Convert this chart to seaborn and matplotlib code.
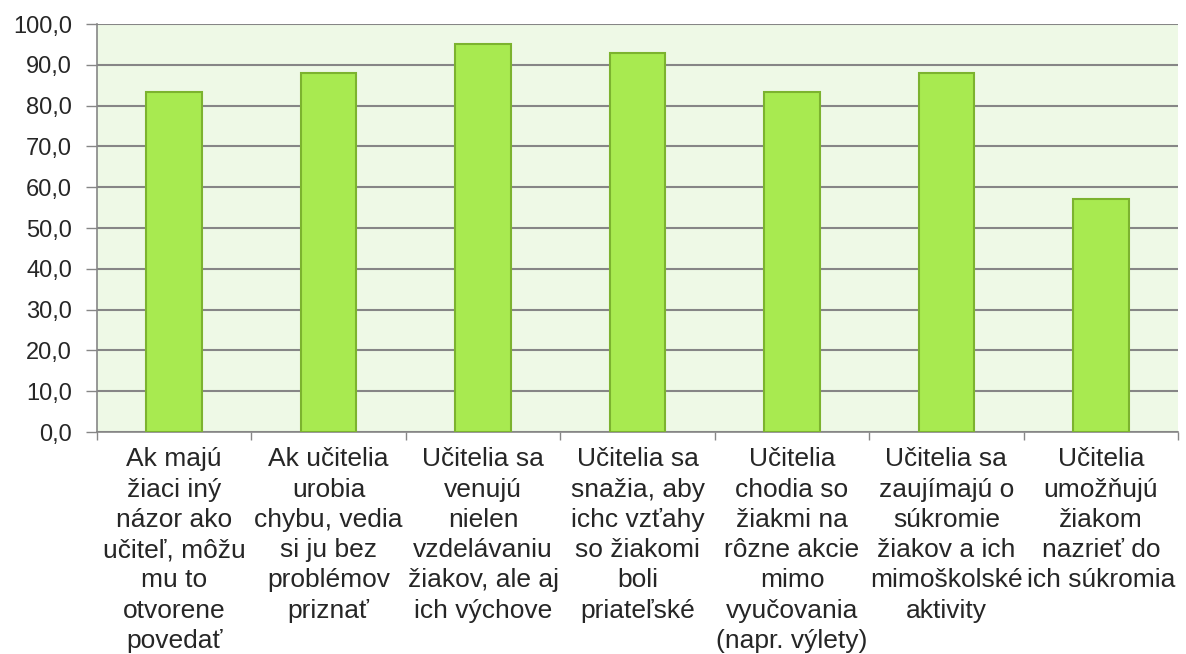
import numpy as np
import pandas as pd
import matplotlib
matplotlib.use("Agg")
import matplotlib.pyplot as plt
import seaborn as sns

categories = [
    "Ak majú\nžiaci iný\nnázor ako\nučiteľ, môžu\nmu to\notvorene\npovedať",
    "Ak učitelia\nurobia\nchybu, vedia\nsi ju bez\nproblémov\npriznať",
    "Učitelia sa\nvenujú\nnielen\nvzdelávaniu\nžiakov, ale aj\nich výchove",
    "Učitelia sa\nsnažia, aby\nichc vzťahy\nso žiakomi\nboli\npriateľské",
    "Učitelia\nchodia so\nžiakmi na\nrôzne akcie\nmimo\nvyučovania\n(napr. výlety)",
    "Učitelia sa\nzaujímajú o\nsúkromie\nžiakov a ich\nmimoškolské\naktivity",
    "Učitelia\numožňujú\nžiakom\nnazrieť do\nich súkromia",
]
values = [83.3, 88.1, 95.2, 92.9, 83.3, 88.1, 57.1]
yticks = [0, 10, 20, 30, 40, 50, 60, 70, 80, 90, 100]

df = pd.DataFrame({"kat": categories, "hodnota": values})

sns.set_style("white")
plt.rcParams["font.family"] = ["Liberation Sans", "DejaVu Sans"]

fig = plt.figure(figsize=(11.86, 6.54), dpi=100)
ax = fig.add_axes([0.0818, 0.3394, 0.9115, 0.6239])
ax.set_facecolor("#eef9e6")

sns.barplot(data=df, x="kat", y="hodnota", color="#a8ea50", width=0.36,
            edgecolor="#7cb32f", linewidth=1.5, saturation=1, ax=ax, zorder=3)

ax.set_ylim(0, 100)
ax.set_xlim(-0.5, len(categories) - 0.5)
ax.set_yticks(yticks)
ax.set_yticklabels([f"{v:.1f}".replace(".", ",") for v in yticks], fontsize=17)
ax.yaxis.grid(True, color="#868686", linewidth=1.5, zorder=0)
ax.set_axisbelow(True)

# x ticks at category boundaries, labels in centre
ax.set_xticks(np.arange(-0.5, len(categories), 1.0))
ax.set_xticklabels([])
ax.set_xticks(np.arange(len(categories)), minor=True)
ax.set_xticklabels(categories, minor=True, fontsize=19, linespacing=1.33,
                   ha="center", va="top")
ax.tick_params(axis="x", which="major", length=6, width=1, color="#868686", bottom=True)
ax.tick_params(axis="x", which="minor", length=0, pad=11)
ax.tick_params(axis="y", length=8, width=1, color="#868686", left=True, pad=10)

ax.set_xlabel("")
ax.set_ylabel("")
for s in ["top", "right"]:
    ax.spines[s].set_visible(False)
for s in ["left", "bottom"]:
    ax.spines[s].set_color("#868686")
    ax.spines[s].set_linewidth(1.2)

fig.savefig("out.png", dpi=100, facecolor="white")
